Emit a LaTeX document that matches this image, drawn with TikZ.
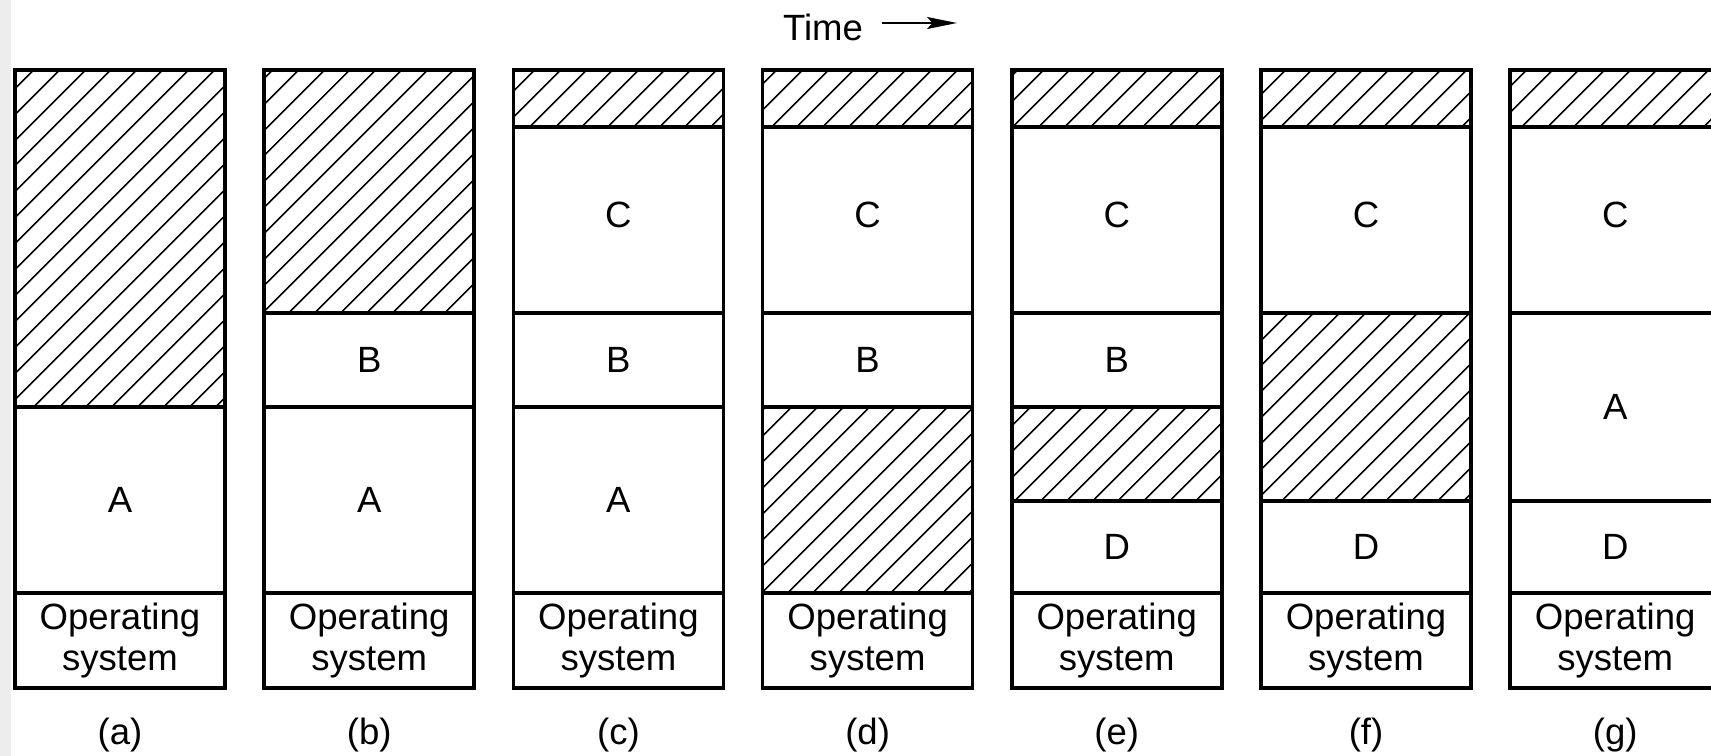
\documentclass[tikz,border=0pt]{standalone}
\usepackage{fontspec}
\setmainfont{Liberation Sans}
\usetikzlibrary{arrows.meta,patterns.meta}

\tikzset{
  hole/.style={pattern={Lines[angle=45,distance=5.4pt,line width=0.5pt]}},
  seg/.style={font=\fontsize{10.4}{11.8}\selectfont},
  oslabel/.style={seg,align=center},
  timearrow/.style={line width=0.6pt,-{Stealth[length=8.5pt,width=3.4pt,inset=1.5pt]}},
}

\begin{document}
\begin{tikzpicture}[scale=1.0,line width=1pt]
  \clip (0,0) rectangle (17.11,7.56);
  \fill[gray!14] (0,0) rectangle (0.11,7.56); %scan edge

  \node[seg] (time) at (8.23,7.285) {Time};  %Time axis
  \coordinate (tstart) at (8.82,7.33);
  \coordinate (tend) at (9.57,7.33);
  \draw[timearrow] (tstart) -- (tend);

  \fill[hole] (0.15,3.49) rectangle (2.25,6.86);    %(a) free space
  \fill[hole] (2.642,4.43) rectangle (4.742,6.86);  %(b)
  \fill[hole] (5.134,6.29) rectangle (7.234,6.86);  %(c)
  \fill[hole] (7.626,6.29) rectangle (9.726,6.86);  %(d)
  \fill[hole] (7.626,1.63) rectangle (9.726,3.49);
  \fill[hole] (10.118,6.29) rectangle (12.218,6.86); %(e)
  \fill[hole] (10.118,2.55) rectangle (12.218,3.49);
  \fill[hole] (12.61,6.29) rectangle (14.71,6.86);   %(f)
  \fill[hole] (12.61,2.55) rectangle (14.71,4.43);
  \fill[hole] (15.102,6.29) rectangle (17.202,6.86); %(g)

  % memory columns, operating system at the bottom
  \foreach \i/\n/\cuts in {0/a/{3.49},1/b/{4.43,3.49},2/c/{6.29,4.43,3.49},
      3/d/{6.29,4.43,3.49},4/e/{6.29,4.43,3.49,2.55},5/f/{6.29,4.43,2.55},
      6/g/{6.29,4.43,2.55}} {
    \pgfmathsetmacro\xl{0.15+2.492*\i}
    \draw (\xl,0.68) rectangle ++(2.10,6.18);
    \draw (\xl,1.63) -- ++(2.10,0);
    \foreach \y in \cuts {\draw (\xl,\y) -- ++(2.10,0);}
    \node[oslabel] (os\n) at (\xl+1.05,1.155) {Operating\\system};
    \node[seg] (lab\n) at (\xl+1.05,0.21) {(\n)};
  }

  \node[seg] (Aa) at (1.20,2.56) {A};
  \node[seg] (Bb) at (3.692,3.96) {B};
  \node[seg] (Ab) at (3.692,2.56) {A};
  \node[seg] (Cc) at (6.184,5.41) {C};
  \node[seg] (Bc) at (6.184,3.96) {B};
  \node[seg] (Ac) at (6.184,2.56) {A};
  \node[seg] (Cd) at (8.676,5.41) {C};
  \node[seg] (Bd) at (8.676,3.96) {B};
  \node[seg] (Ce) at (11.168,5.41) {C};
  \node[seg] (Be) at (11.168,3.96) {B};
  \node[seg] (De) at (11.168,2.09) {D};
  \node[seg] (Cf) at (13.66,5.41) {C};
  \node[seg] (Df) at (13.66,2.09) {D};
  \node[seg] (Cg) at (16.152,5.41) {C};
  \node[seg] (Ag) at (16.152,3.49) {A};
  \node[seg] (Dg) at (16.152,2.09) {D};
\end{tikzpicture}
\end{document}
